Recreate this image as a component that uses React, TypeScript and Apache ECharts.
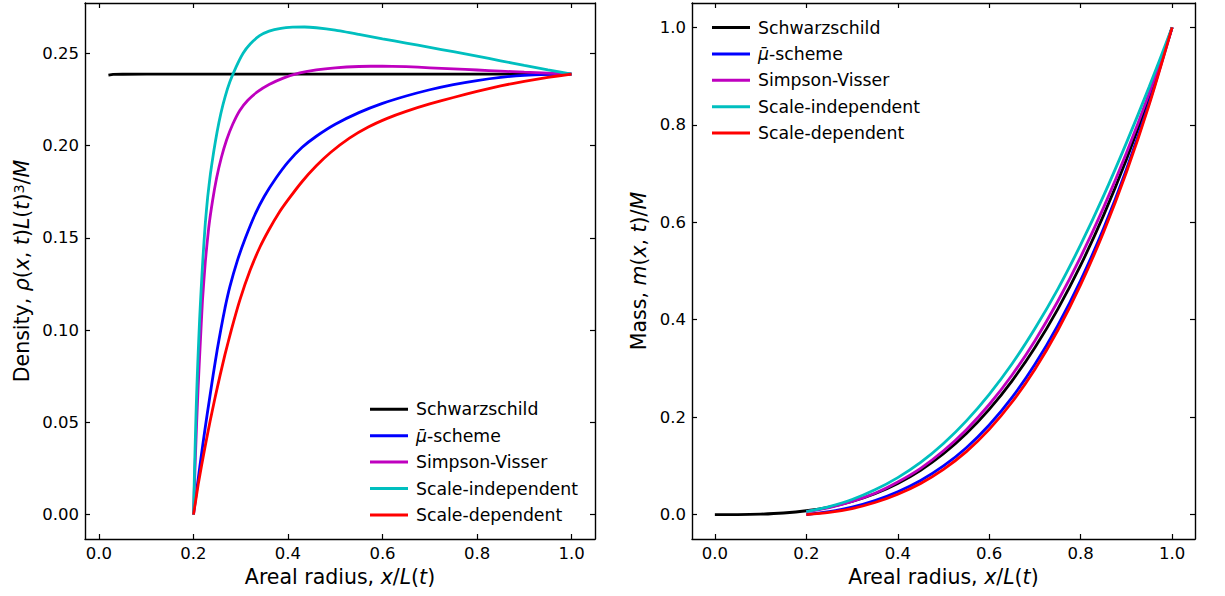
import React, { useEffect, useRef } from "react";
import * as echarts from "echarts";

// ---------- Density panel (left) ----------
const densSchwX = [0.02, 0.03, 0.05, 0.1, 0.2, 0.4, 0.6, 0.8, 1.0];
const densSchwY = [0.2381, 0.2385, 0.2386, 0.2387, 0.2387, 0.2387, 0.2387, 0.2387, 0.2387];

const densMuX = [0.2, 0.205, 0.21, 0.2165, 0.225, 0.2335, 0.2415, 0.25, 0.258, 0.2667, 0.277, 0.2927, 0.31, 0.33, 0.35, 0.375, 0.4, 0.43, 0.46, 0.5, 0.55, 0.6, 0.65, 0.7, 0.75, 0.8, 0.85, 0.9, 0.95, 1.0];
const densMuY = [0, 0.0098, 0.0195, 0.032, 0.0475, 0.062, 0.0755, 0.089, 0.1005, 0.112, 0.1235, 0.1375, 0.15, 0.1625, 0.1725, 0.1825, 0.191, 0.199, 0.205, 0.2115, 0.2178, 0.2228, 0.2268, 0.2302, 0.233, 0.2352, 0.2369, 0.238, 0.2385, 0.2387];

const densSVX = [0.2, 0.202, 0.204, 0.2067, 0.21, 0.214, 0.219, 0.225, 0.232, 0.24, 0.249, 0.259, 0.27, 0.283, 0.298, 0.315, 0.335, 0.36, 0.39, 0.425, 0.46, 0.5, 0.55, 0.6, 0.65, 0.7, 0.75, 0.8, 0.85, 0.9, 0.95, 1.0];
const densSVY = [0, 0.016, 0.031, 0.05, 0.07, 0.091, 0.116, 0.137, 0.155, 0.1695, 0.1825, 0.1935, 0.203, 0.2115, 0.219, 0.2245, 0.229, 0.233, 0.2365, 0.2393, 0.241, 0.2421, 0.2428, 0.243, 0.2427, 0.2421, 0.2415, 0.2409, 0.2403, 0.2397, 0.2392, 0.2387];

const densSIX = [0.2, 0.202, 0.204, 0.206, 0.208, 0.21, 0.213, 0.216, 0.22, 0.225, 0.23, 0.236, 0.243, 0.25, 0.258, 0.267, 0.277, 0.29, 0.305, 0.32, 0.34, 0.36, 0.385, 0.41, 0.435, 0.46, 0.5, 0.55, 0.6, 0.65, 0.7, 0.75, 0.8, 0.85, 0.9, 0.95, 1.0];
const densSIY = [0, 0.022, 0.042, 0.06, 0.075, 0.088, 0.106, 0.121, 0.139, 0.158, 0.172, 0.185, 0.197, 0.2075, 0.2175, 0.2265, 0.2345, 0.2425, 0.25, 0.255, 0.2595, 0.262, 0.2635, 0.2641, 0.2642, 0.2638, 0.2625, 0.2602, 0.2578, 0.2555, 0.2532, 0.2508, 0.2484, 0.2459, 0.2434, 0.241, 0.2387];

const densSDX = [0.2, 0.205, 0.21, 0.2173, 0.225, 0.235, 0.2455, 0.256, 0.2667, 0.28, 0.2984, 0.32, 0.3407, 0.36, 0.38, 0.4, 0.43, 0.46, 0.49, 0.53, 0.57, 0.61, 0.65, 0.7, 0.75, 0.8, 0.85, 0.9, 0.95, 1.0];
const densSDY = [0, 0.0082, 0.0164, 0.0269, 0.0375, 0.0505, 0.0632, 0.0752, 0.0868, 0.1, 0.1165, 0.1325, 0.145, 0.1545, 0.1632, 0.1705, 0.1805, 0.189, 0.1962, 0.204, 0.21, 0.2147, 0.2185, 0.2225, 0.226, 0.2293, 0.2323, 0.2348, 0.2369, 0.2387];

// ---------- Mass panel (right) ----------
const massSchwX = [0, 0.05, 0.1, 0.15, 0.2, 0.25, 0.3, 0.35, 0.4, 0.45, 0.5, 0.55, 0.6, 0.65, 0.7, 0.75, 0.8, 0.85, 0.9, 0.95, 1.0];
const massSchwY = [0, 0.0001, 0.001, 0.0034, 0.008, 0.0156, 0.027, 0.0429, 0.064, 0.0911, 0.125, 0.1664, 0.216, 0.2746, 0.343, 0.4219, 0.512, 0.6141, 0.729, 0.8574, 1.0];

const massX = [0.2, 0.25, 0.3, 0.35, 0.4, 0.45, 0.5, 0.55, 0.6, 0.65, 0.7, 0.75, 0.8, 0.85, 0.9, 0.95, 1.0];
const massMuY = [0, 0.0061, 0.0155, 0.0289, 0.047, 0.0701, 0.1, 0.1374, 0.184, 0.2406, 0.3085, 0.3884, 0.481, 0.5871, 0.7085, 0.8459, 1.0];
const massSVY = [0.006, 0.0146, 0.027, 0.0439, 0.067, 0.0951, 0.131, 0.1744, 0.226, 0.2866, 0.357, 0.4379, 0.529, 0.6301, 0.742, 0.8654, 1.0];
const massSIY = [0.006, 0.0166, 0.031, 0.0509, 0.076, 0.1071, 0.146, 0.1924, 0.247, 0.3096, 0.382, 0.4629, 0.554, 0.6541, 0.763, 0.8784, 1.0];
const massSDY = [0, 0.0046, 0.0125, 0.0249, 0.042, 0.0641, 0.093, 0.1294, 0.175, 0.2311, 0.2985, 0.3784, 0.472, 0.5796, 0.7025, 0.8419, 1.0];

// ---------- Labels ----------
const seriesNames = ["Schwarzschild", "μ̄-scheme", "Simpson-Visser", "Scale-independent", "Scale-dependent"];
const seriesColors = ["#000000", "#0000ff", "#bf00bf", "#00bfbf", "#ff0000"];
const xTicks = [0, 0.2, 0.4, 0.6, 0.8, 1.0];
const densYTicks = [0, 0.05, 0.1, 0.15, 0.2, 0.25];
const massYTicks = [0, 0.2, 0.4, 0.6, 0.8, 1.0];

const FONT = "DejaVu Sans";

const zip = (xs: number[], ys: number[]) => xs.map((x, i) => [x, ys[i]]);

export default function App() {
  const ref = useRef<HTMLDivElement>(null);

  useEffect(() => {
    if (!ref.current) return;
    const chart = echarts.init(ref.current, undefined, { renderer: "svg" });

    const axisLine = { show: true, onZero: false, lineStyle: { color: "#000", width: 1.4 } };
    const tickStyle = (vals: number[]) => ({
      show: true,
      inside: true,
      length: 5,
      lineStyle: { color: "#000", width: 1.2 },
      customValues: vals,
    });
    const labelStyle = (vals: number[], dec: number, show = true) => ({
      show,
      customValues: vals,
      color: "#000",
      fontFamily: FONT,
      fontSize: 16.5,
      margin: 6,
      formatter: (v: number) => v.toFixed(dec),
    });
    const nameStyle = {
      fontFamily: FONT,
      fontSize: 20.5,
      color: "#000",
      rich: {
        i: { fontFamily: FONT, fontSize: 20.5, fontStyle: "italic", color: "#000" },
        s: { fontFamily: FONT, fontSize: 14.5, color: "#000", verticalAlign: "top" },
      },
    };

    const mkX = (grid: number, min: number, max: number, pos: "top" | "bottom", name?: string) => ({
      type: "value",
      gridIndex: grid,
      position: pos,
      min,
      max,
      axisLine,
      axisTick: tickStyle(xTicks),
      axisLabel: labelStyle(xTicks, 1, pos === "bottom"),
      splitLine: { show: false },
      name: name || "",
      nameLocation: "middle",
      nameGap: 27,
      nameTextStyle: nameStyle,
    });
    const mkY = (grid: number, min: number, max: number, pos: "left" | "right", ticks: number[], dec: number, name?: string, gap = 50) => ({
      type: "value",
      gridIndex: grid,
      position: pos,
      min,
      max,
      axisLine,
      axisTick: tickStyle(ticks),
      axisLabel: labelStyle(ticks, dec, pos === "left"),
      splitLine: { show: false },
      name: name || "",
      nameLocation: "middle",
      nameGap: gap,
      nameTextStyle: nameStyle,
    });

    const xName = "Areal radius, {i|x}/{i|L}({i|t})";

    const densData = [
      zip(densSchwX, densSchwY),
      zip(densMuX, densMuY),
      zip(densSVX, densSVY),
      zip(densSIX, densSIY),
      zip(densSDX, densSDY),
    ];
    const massData = [
      zip(massSchwX, massSchwY),
      zip(massX, massMuY),
      zip(massX, massSVY),
      zip(massX, massSIY),
      zip(massX, massSDY),
    ];

    const series: any[] = [];
    densData.forEach((d, i) =>
      series.push({
        type: "line",
        name: seriesNames[i],
        xAxisIndex: 0,
        yAxisIndex: 0,
        data: d,
        showSymbol: false,
        smooth: i === 0 ? false : 0.15,
        lineStyle: { color: seriesColors[i], width: 2.8 },
        itemStyle: { color: seriesColors[i] },
        z: 2 + i,
      })
    );
    massData.forEach((d, i) =>
      series.push({
        type: "line",
        name: seriesNames[i],
        xAxisIndex: 2,
        yAxisIndex: 2,
        data: d,
        showSymbol: false,
        smooth: 0.3,
        lineStyle: { color: seriesColors[i], width: 2.8 },
        itemStyle: { color: seriesColors[i] },
        z: 2 + i,
      })
    );

    const legendBase = {
      orient: "vertical",
      data: seriesNames,
      icon: "rect",
      itemWidth: 38,
      itemHeight: 3,
      itemGap: 6.4,
      selectedMode: false,
      formatter: (n: string) => (n === "μ̄-scheme" ? "{i|μ̄}-scheme" : n),
      textStyle: {
        fontFamily: FONT,
        fontSize: 17.3,
        color: "#000",
        lineHeight: 20,
        padding: [0, 0, 0, 3],
        rich: {
          i: { fontFamily: FONT, fontSize: 17.3, fontStyle: "italic", color: "#000", lineHeight: 20 },
        },
      },
    };

    chart.setOption({
      animation: false,
      backgroundColor: "#fff",
      grid: [
        { left: 85, top: 3, width: 510, height: 536 },
        { left: 692, top: 3, width: 503, height: 536 },
      ],
      xAxis: [
        mkX(0, -0.0296, 1.0497, "bottom", xName),
        mkX(0, -0.0296, 1.0497, "top"),
        mkX(1, -0.05, 1.05, "bottom", xName),
        mkX(1, -0.05, 1.05, "top"),
      ],
      yAxis: [
        mkY(0, -0.0132, 0.2772, "left", densYTicks, 2, "Density, {i|ρ}({i|x}, {i|t}){i|L}({i|t}){s|3}/{i|M}", 53),
        mkY(0, -0.0132, 0.2772, "right", densYTicks, 2),
        mkY(1, -0.05, 1.05, "left", massYTicks, 1, "Mass, {i|m}({i|x}, {i|t})/{i|M}", 43),
        mkY(1, -0.05, 1.05, "right", massYTicks, 1),
      ],
      legend: [
        { ...legendBase, left: 365, top: 394.3 },
        { ...legendBase, left: 707, top: 12.5 },
      ],
      series,
    });

    return () => chart.dispose();
  }, []);

  return (
    <div
      ref={ref}
      style={{ position: "absolute", left: 0, top: 0, width: 1225, height: 596, background: "#fff" }}
    />
  );
}
